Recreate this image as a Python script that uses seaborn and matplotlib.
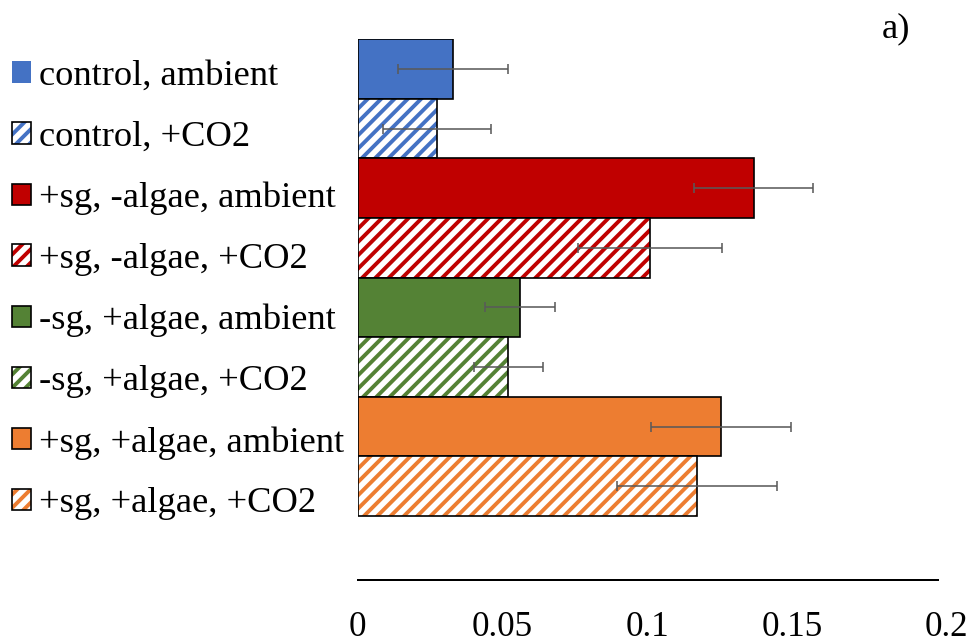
import numpy as np
import pandas as pd
import matplotlib
matplotlib.use("Agg")
import matplotlib.pyplot as plt
import matplotlib.transforms as mtrans
import seaborn as sns
from matplotlib.patches import Patch
from matplotlib.colors import to_rgba

categories = ["control, ambient", "control, +CO2",
              "+sg, -algae, ambient", "+sg, -algae, +CO2",
              "-sg, +algae, ambient", "-sg, +algae, +CO2",
              "+sg, +algae, ambient", "+sg, +algae, +CO2"]
values = [0.0330, 0.0274, 0.1366, 0.1009, 0.0560, 0.0519, 0.1253, 0.1170]
errors = [0.0189, 0.0186, 0.0204, 0.0248, 0.0122, 0.0119, 0.0241, 0.0276]
hatched = [False, True, False, True, False, True, False, True]
colors = ["#4472C4", "#4472C4", "#C00000", "#C00000",
          "#548235", "#548235", "#ED7D31", "#ED7D31"]
xticks = [0, 0.05, 0.1, 0.15, 0.2]
xticklabels = ["0", "0.05", "0.1", "0.15", "0.2"]

sns.set_theme(style="white")
plt.rcParams["font.family"] = ["Liberation Serif", "DejaVu Serif"]
plt.rcParams["hatch.linewidth"] = 3.5
plt.rcParams["text.color"] = "black"

DPI = 80
W, H = 969, 641
FS = 31.5
LFS = 32.8
fig = plt.figure(figsize=(W / DPI, H / DPI), dpi=DPI)
ax = fig.add_axes([357.5 / W, 1 - 580 / H, (937.5 - 357.5) / W, (580 - 39.3) / H])

df = pd.DataFrame({"cat": categories, "val": values})
sns.barplot(data=df, x="val", y="cat", hue="cat", palette=colors, orient="h",
            width=1.0, legend=False, ax=ax, saturation=1,
            edgecolor="black", linewidth=1.5)

for p, h, c in zip(ax.patches, hatched, colors):
    if h:
        p.set_facecolor("white")
        p.set_hatch("//")
        p._hatch_color = to_rgba(c)

pos = np.arange(len(categories))
ax.errorbar(values, pos, xerr=errors, fmt="none", ecolor="#595959",
            elinewidth=1.4, capsize=4.5, capthick=1.4, zorder=5)

ax.set_xlim(0, 0.2)
ax.set_ylim(8.574, -0.5)
ax.set_xticks(xticks)
ax.set_xticklabels(xticklabels)
ax.set_yticks([])
ax.set_xlabel("")
ax.set_ylabel("")
ax.tick_params(axis="x", length=0, labelsize=FS, pad=28, colors="black")
for s in ["left", "top", "right"]:
    ax.spines[s].set_visible(False)
ax.spines["bottom"].set_color("black")
ax.spines["bottom"].set_linewidth(1.8)

# last tick label nudged inward-right like the original (kept within figure)
last = ax.xaxis.get_major_ticks()[-1].label1
last.set_transform(last.get_transform() +
                   mtrans.ScaledTranslation(9 / DPI, 0, fig.dpi_scale_trans))

handles = []
for i, (h, c) in enumerate(zip(hatched, colors)):
    if h:
        hp = Patch(facecolor="white", edgecolor="black", linewidth=1.5, hatch="//")
        hp._hatch_color = to_rgba(c)
    else:
        hp = Patch(facecolor=c, edgecolor="none" if i == 0 else "black", linewidth=1.5)
    handles.append(hp)

leg = fig.legend(handles, categories, loc="upper left",
                 bbox_to_anchor=(12 / W, 1 - 60 / H), frameon=False, fontsize=LFS,
                 handlelength=0.52, handleheight=0.52, handletextpad=0.23,
                 labelspacing=0.764, borderpad=0, borderaxespad=0)
for t in leg.get_texts():
    t.set_color("black")

fig.text(882 / W, 1 - 37 / H, "a)", ha="left", va="baseline", fontsize=LFS, color="black")

fig.savefig("out.png", dpi=DPI)
